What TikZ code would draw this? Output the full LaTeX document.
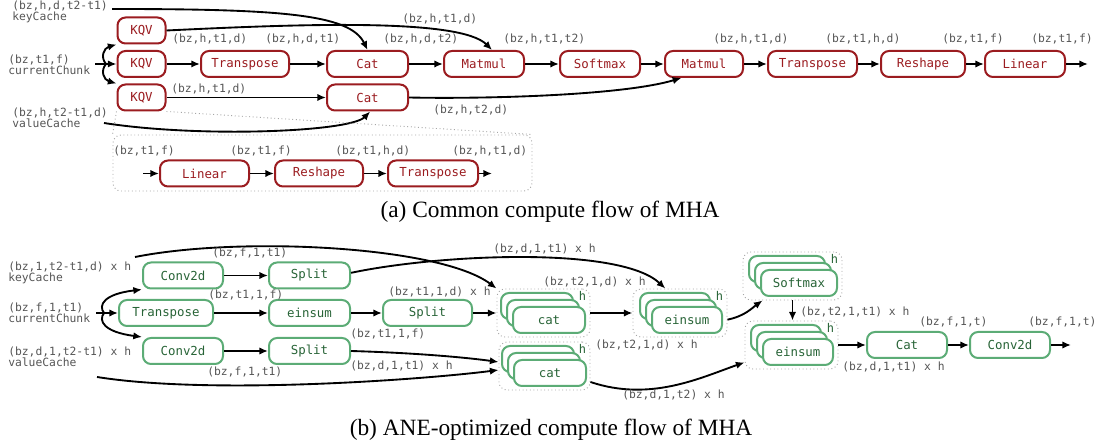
\documentclass[tikz,border=0pt]{standalone}
\usepackage{fontspec}
\setmainfont{Liberation Serif}
\setmonofont{DejaVu Sans Mono}
\usetikzlibrary{arrows.meta}
\definecolor{mred}{RGB}{155,28,32}
\definecolor{gborder}{RGB}{92,172,118}
\definecolor{gtext}{RGB}{40,100,55}
\definecolor{lgray}{RGB}{85,85,85}
\begin{document}
\begin{tikzpicture}[x=0.75pt,y=-0.75pt,
  rbox/.style={draw=mred, text=mred, line width=1.5pt, rounded corners=6pt, minimum height=19.5pt, inner sep=0pt, fill=white, font=\ttfamily\fontsize{9.3pt}{10pt}\selectfont},
  gbox/.style={draw=gborder, text=gtext, line width=1.5pt, rounded corners=6pt, minimum height=19.5pt, inner sep=0pt, fill=white, font=\ttfamily\fontsize{9.3pt}{10pt}\selectfont},
  lbl/.style={text=lgray, inner sep=0pt, anchor=west, font=\ttfamily\fontsize{8.5pt}{8.2pt}\selectfont},
  srclbl/.style={lbl, align=left},
  arr/.style={-{Latex[length=6.5pt,width=5.5pt]}, line width=1.4pt},
  grp/.style={draw=gray!70, dotted, line width=0.7pt, rounded corners=6pt, inner sep=0pt},
  zl/.style={draw=gray!70, dotted, line width=0.7pt},
  hl/.style={text=gtext, inner sep=0pt, anchor=north east, font=\ttfamily\fontsize{9pt}{9pt}\selectfont},
  captext/.style={inner sep=0pt, font=\fontsize{17.5pt}{20pt}\selectfont}
]
\useasboundingbox (0,0) rectangle (1095,448);

%%%%%%%%%%%%%%%% (a) %%%%%%%%%%%%%%%%
\node[srclbl] (kcA) at (12,11.5) {(bz,h,d,t2-t1)\\keyCache};
\node[srclbl] (ccA) at (8,65) {(bz,t1,f)\\currentChunk};
\node[srclbl] (vcA) at (12,118) {(bz,h,t2-t1,d)\\valueCache};
\coordinate (kcAs) at (112,9);
\coordinate (ccAs) at (95,64);
\coordinate (ccAb) at (106,64);
\coordinate (vcAs) at (104,123);

\node[rbox, minimum width=36pt] (kqv1) at (141.5,30.5) {KQV};
\node[rbox, minimum width=36pt] (kqv2) at (141.5,64) {KQV};
\node[rbox, minimum width=36pt] (kqv3) at (141.5,97.5) {KQV};
\node[rbox, minimum width=66pt] (trA) at (245,64) {Transpose};
\node[rbox, minimum width=60.75pt] (catA) at (367.5,64) {Cat};
\node[rbox, minimum width=60.75pt] (catB) at (367.5,97.5) {Cat};
\node[rbox, minimum width=60pt] (mmA) at (484,64) {Matmul};
\node[rbox, minimum width=60pt] (smA) at (600,64) {Softmax};
\node[rbox, minimum width=58.5pt] (mmB) at (704,64) {Matmul};
\node[rbox, minimum width=66.75pt] (trB) at (812.5,64) {Transpose};
\node[rbox, minimum width=63pt] (rsA) at (923,64) {Reshape};
\node[rbox, minimum width=60pt] (lnA) at (1025,64) {Linear};
\coordinate (outA) at (1088,64);

\draw[arr] (ccAs) -- (kqv2);
\draw[arr] (ccAb) .. controls (100,57) and (104,48) .. (kqv1.south west);
\draw[arr] (ccAb) .. controls (100,71) and (104,80) .. (kqv3.north west);
\draw[arr] (kcAs) .. controls (280,9) and (350,14) .. (catA.north);
\draw[arr] (kqv1.east) .. controls (300,24) and (460,18) .. ([xshift=6pt]mmA.north);
\draw[arr] (kqv2) -- (trA);
\draw[arr] (trA) -- (catA);
\draw[arr] (kqv3) -- (catB);
\draw[arr] (catA) -- (mmA);
\draw[arr] (mmA) -- (smA);
\draw[arr] (smA) -- (mmB);
\draw[arr] (catB.east) .. controls (480,99) and (620,96) .. ([xshift=-17pt]mmB.south);
\draw[arr] (vcAs) .. controls (200,138) and (350,132) .. ([xshift=2pt]catB.south);
\draw[arr] (mmB) -- (trB);
\draw[arr] (trB) -- (rsA);
\draw[arr] (rsA) -- (lnA);
\draw[arr] (lnA) -- (outA);

\node[lbl] (la1) at (172,39) {(bz,h,t1,d)};
\node[lbl] (la2) at (265,39) {(bz,h,d,t1)};
\node[lbl] (la3) at (171,89) {(bz,h,t1,d)};
\node[lbl] (la4) at (402,19) {(bz,h,t1,d)};
\node[lbl] (la5) at (383,39) {(bz,h,d,t2)};
\node[lbl] (la6) at (503,39) {(bz,h,t1,t2)};
\node[lbl] (la7) at (433,110) {(bz,h,t2,d)};
\node[lbl] (la8) at (713,39) {(bz,h,t1,d)};
\node[lbl] (la9) at (825,39) {(bz,t1,h,d)};
\node[lbl] (la10) at (942,39) {(bz,t1,f)};
\node[lbl] (la11) at (1031,39) {(bz,t1,f)};

% inset
\node[grp, minimum width=314.25pt, minimum height=42pt] (inset) at (322.5,163) {};
\draw[zl] (kqv3.south west) -- (inset.north west);
\draw[zl] (kqv3.south east) -- (inset.north east);
\node[rbox, minimum width=66.75pt] (lnI) at (204.5,173.5) {Linear};
\node[rbox, minimum width=66pt] (rsI) at (319,173.5) {Reshape};
\node[rbox, minimum width=67.5pt] (trI) at (433,173.5) {Transpose};
\coordinate (inI) at (143,173.5);
\coordinate (outI) at (492,173.5);
\draw[arr] (inI) -- (lnI);
\draw[arr] (lnI) -- (rsI);
\draw[arr] (rsI) -- (trI);
\draw[arr] (trI) -- (outI);
\node[lbl] (li1) at (113,151) {(bz,t1,f)};
\node[lbl] (li2) at (230,151) {(bz,t1,f)};
\node[lbl] (li3) at (335,151) {(bz,t1,h,d)};
\node[lbl] (li4) at (452,151) {(bz,h,t1,d)};

\node[captext] (capA) at (550,212) {(a) Common compute flow of MHA};

%%%%%%%%%%%%%%%% (b) %%%%%%%%%%%%%%%%
\node[srclbl] (kcB) at (8,273) {(bz,1,t2-t1,d) x h\\keyCache};
\node[srclbl] (ccB) at (8,313) {(bz,f,1,t1)\\currentChunk};
\node[srclbl] (vcB) at (8,356.5) {(bz,d,1,t2-t1) x h\\valueCache};
\coordinate (kcBs) at (135,257);
\coordinate (ccBs) at (96,313);
\coordinate (ccBb) at (104,313);
\coordinate (vcBs) at (97,377);

\node[gbox, minimum width=60pt] (cv1) at (183,275.5) {Conv2d};
\node[gbox, minimum width=60.75pt] (sp1) at (309.5,275.5) {Split};
\node[gbox, minimum width=70.5pt] (tpB) at (166,313) {Transpose};
\node[gbox, minimum width=60.75pt] (es1) at (309.5,313) {einsum};
\node[gbox, minimum width=60pt] (cv2) at (183,351) {Conv2d};
\node[gbox, minimum width=60.75pt] (sp2) at (309.5,351) {Split};
\node[gbox, minimum width=66.75pt] (sp3) at (427.5,313) {Split};

% stacked groups
\node[grp, minimum width=69.75pt, minimum height=36pt] (gCat1) at (543.5,313) {};
\node[gbox, minimum width=54pt] (gCat1c) at (537,306) {};
\node[gbox, minimum width=54pt] (gCat1b) at (543,313) {};
\node[gbox, minimum width=54pt] (gCat1a) at (549,320) {cat};
\node[hl] (hCat1) at ([xshift=-3pt,yshift=-2pt]gCat1.north east) {h};

\node[grp, minimum width=70.5pt, minimum height=36pt] (gEs1) at (680,313) {};
\node[gbox, minimum width=52.5pt] (gEs1c) at (675,306) {};
\node[gbox, minimum width=52.5pt] (gEs1b) at (681,313) {};
\node[gbox, minimum width=52.5pt] (gEs1a) at (687,320) {einsum};
\node[hl] (hEs1) at ([xshift=-3pt,yshift=-2pt]gEs1.north east) {h};

\node[grp, minimum width=68.25pt, minimum height=36pt] (gCat2) at (544.5,366) {};
\node[gbox, minimum width=54pt] (gCat2c) at (538,359) {};
\node[gbox, minimum width=54pt] (gCat2b) at (544,366) {};
\node[gbox, minimum width=54pt] (gCat2a) at (550,373) {cat};
\node[hl] (hCat2) at ([xshift=-3pt,yshift=-2pt]gCat2.north east) {h};

\node[grp, minimum width=74.25pt, minimum height=36pt] (gSm) at (792.5,276) {};
\node[gbox, minimum width=57pt] (gSmc) at (787,269) {};
\node[gbox, minimum width=57pt] (gSmb) at (793,276) {};
\node[gbox, minimum width=57pt] (gSma) at (799,283) {Softmax};
\node[hl] (hSm) at ([xshift=-3pt,yshift=-2pt]gSm.north east) {h};

\node[grp, minimum width=69.75pt, minimum height=36pt] (gEs2) at (791.5,345) {};
\node[gbox, minimum width=52.5pt] (gEs2c) at (786,338) {};
\node[gbox, minimum width=52.5pt] (gEs2b) at (792,345) {};
\node[gbox, minimum width=52.5pt] (gEs2a) at (798,352) {einsum};
\node[hl] (hEs2) at ([xshift=-3pt,yshift=-2pt]gEs2.north east) {h};

\node[gbox, minimum width=60pt] (catC) at (907,345) {Cat};
\node[gbox, minimum width=60pt] (cv3) at (1010,345) {Conv2d};
\coordinate (outB) at (1071,345);

\draw[arr] (ccBs) -- (tpB);
\draw[arr] (ccBb) .. controls (98,305) and (104,294) .. (cv1.south west);
\draw[arr] (ccBb) .. controls (98,321) and (104,332) .. (cv2.north west);
\draw[arr] (cv1) -- (sp1);
\draw[arr] (tpB) -- (es1);
\draw[arr] (cv2) -- (sp2);
\draw[arr] (es1) -- (sp3);
\draw[arr] (sp3) -- (gCat1);
\draw[arr] (gCat1) -- (gEs1);
\draw[arr] (kcBs) .. controls (240,236) and (440,246) .. (gCat1.north west);
\draw[arr] ([yshift=2pt]sp1.east) .. controls (440,254) and (620,246) .. ([xshift=-11pt]gEs1.north);
\draw[arr] (sp2.east) .. controls (420,353) and (470,358) .. ([yshift=3pt]gCat2.west);
\draw[arr] (vcBs) .. controls (210,395) and (420,380) .. ([yshift=-3pt]gCat2.west);
\draw[arr] ([yshift=-12pt]gCat2.east) .. controls (650,402) and (700,378) .. ([yshift=-13pt]gEs2.west);
\draw[arr] ([yshift=-5pt]gEs1.east) .. controls (745,316) and (752,308) .. ([xshift=15pt]gSm.south west);
\draw[arr] (gSm.south) -- (gSm.south |- gEs2.north);
\draw[arr] (gEs2.east) -- (catC);
\draw[arr] (catC) -- (cv3);
\draw[arr] (cv3) -- (outB);

\node[lbl] (lb1) at (212,253) {(bz,f,1,t1)};
\node[lbl] (lb2) at (208,295) {(bz,t1,1,f)};
\node[lbl] (lb3) at (207,372) {(bz,f,1,t1)};
\node[lbl] (lb4) at (388,292) {(bz,t1,1,d) x h};
\node[lbl] (lb5) at (350,334) {(bz,t1,1,f)};
\node[lbl] (lb6) at (350,366) {(bz,d,1,t1) x h};
\node[lbl] (lb7) at (493,249) {(bz,d,1,t1) x h};
\node[lbl] (lb8) at (543,282) {(bz,t2,1,d) x h};
\node[lbl] (lb9) at (595,345) {(bz,t2,1,d) x h};
\node[lbl] (lb10) at (622,395) {(bz,d,1,t2) x h};
\node[lbl] (lb11) at (800,312) {(bz,t2,1,t1) x h};
\node[lbl] (lb12) at (842,367) {(bz,d,1,t1) x h};
\node[lbl] (lb13) at (919,322) {(bz,f,1,t)};
\node[lbl] (lb14) at (1028,322) {(bz,f,1,t)};

\node[captext] (capB) at (551,430) {(b) ANE-optimized compute flow of MHA};
\end{tikzpicture}
\end{document}
